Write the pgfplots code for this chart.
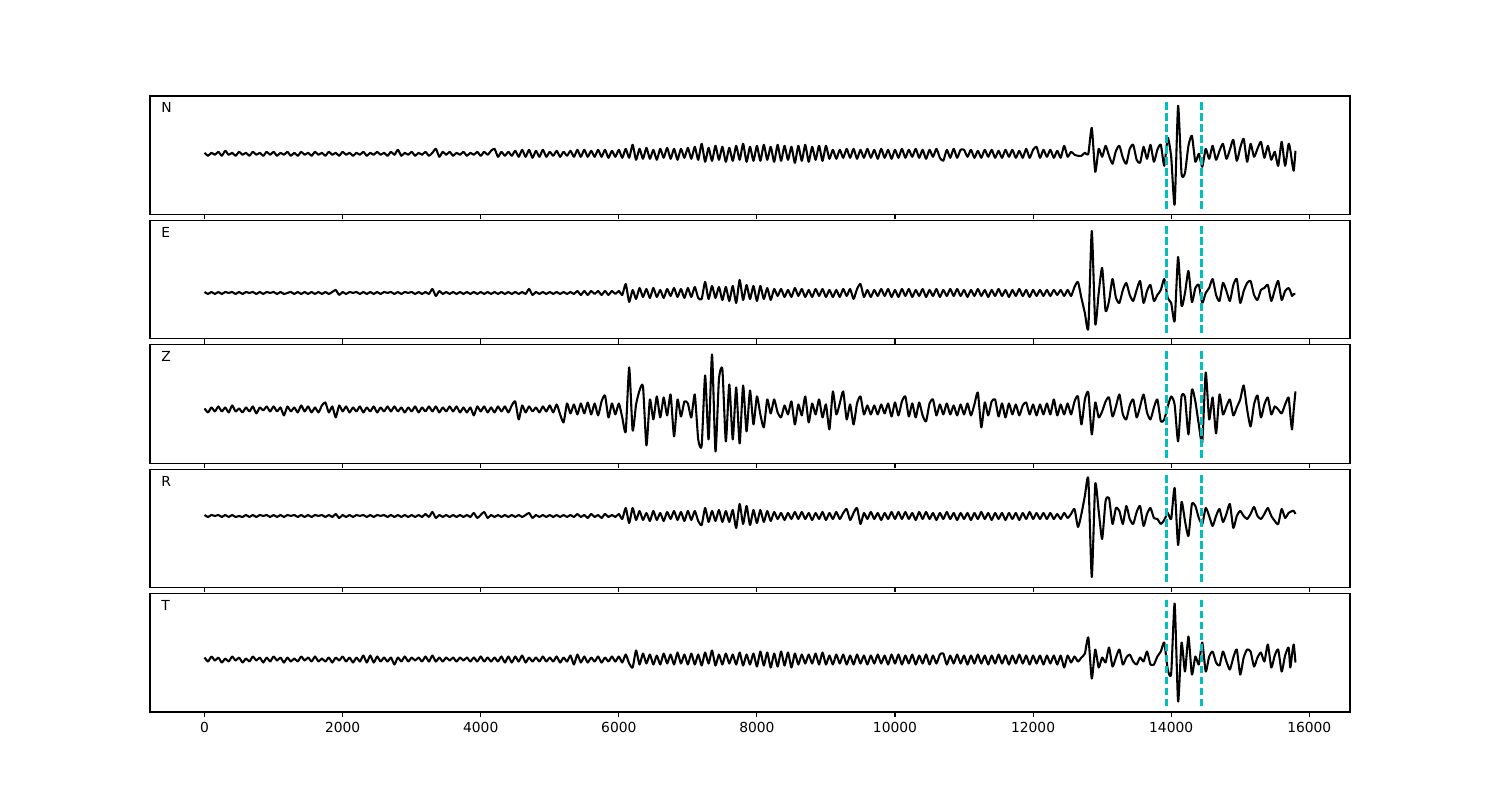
\documentclass[border=0pt]{standalone}
\usepackage{fontspec}
\setmainfont{DejaVu Sans}
\usepackage{pgfplots}
\usepackage{pgfplotstable}
\pgfplotsset{compat=1.18}
\definecolor{mplc}{rgb}{0,0.75,0.75}
\pgfplotstableread[row sep=\\]{
x N E Z R T\\
0 1 1 1 1 2\\
50 -2 -1 -3 -1 -2\\
100 1 1 2 1 3\\
150 -1 -1 -2 0 -1\\
200 2 1 3 1 2\\
250 -2 -1 -2 -1 -3\\
300 3 1 2 1 1\\
350 -1 0 -3 -1 -2\\
400 1 1 4 1 3\\
450 -2 -1 -2 -1 -1\\
500 2 1 1 0 2\\
550 -1 -1 -3 -1 -3\\
600 1 1 2 1 1\\
650 -2 0 -2 -1 -2\\
700 2 1 3 1 3\\
750 -1 -1 -4 -1 -1\\
800 1 1 2 1 2\\
850 -2 -1 -1 0 -3\\
900 2 1 3 1 2\\
950 -1 0 -2 -1 -2\\
1000 2 1 3 1 3\\
1050 -2 -1 -2 -1 -1\\
1100 1 1 2 1 2\\
1150 -1 -1 -6 -1 -3\\
1200 2 0 3 1 2\\
1250 -2 1 -2 0 -2\\
1300 1 -1 2 1 1\\
1350 -2 1 -3 -1 -2\\
1400 2 -1 4 1 3\\
1450 -1 1 -2 -1 -1\\
1500 1 -1 3 1 2\\
1550 -2 1 -3 -1 -2\\
1600 2 -1 2 1 3\\
1650 -1 1 -3 0 -2\\
1700 1 -1 4 1 1\\
1750 -2 1 7 -1 -2\\
1800 2 -1 -3 1 2\\
1850 -1 1 3 -1 -3\\
1900 1 3 -8 2 2\\
1950 -2 -2 4 -2 -1\\
2000 2 1 -2 1 3\\
2050 -1 -1 3 -1 -2\\
2100 1 1 -3 1 2\\
2150 -2 0 2 -1 -3\\
2200 1 1 -2 1 2\\
2250 -1 -1 3 0 -2\\
2300 2 1 -3 1 4\\
2350 -2 -1 2 -1 -3\\
2400 1 1 -2 1 4\\
2450 -1 -1 3 -1 -3\\
2500 2 1 -3 1 3\\
2550 -1 -1 2 0 -2\\
2600 1 1 -2 1 2\\
2650 -2 0 3 -1 -2\\
2700 2 1 -2 1 2\\
2750 -1 -1 3 -1 -5\\
2800 4 1 -2 1 2\\
2850 -2 -1 2 -1 -2\\
2900 1 1 -3 1 3\\
2950 -1 0 2 -1 -2\\
3000 2 1 -2 1 2\\
3050 -2 -1 3 -1 -1\\
3100 1 1 -3 1 2\\
3150 -1 -1 2 -1 -2\\
3200 2 1 -2 2 3\\
3250 -2 -1 3 -1 -2\\
3300 1 4 -2 4 4\\
3350 5 -3 3 -2 -2\\
3400 -3 2 -3 1 2\\
3450 2 -1 2 -1 -2\\
3500 -1 1 -2 1 2\\
3550 2 -1 3 -1 -1\\
3600 -2 1 -2 1 2\\
3650 1 -1 3 -1 -2\\
3700 -1 1 -3 1 2\\
3750 2 -1 2 -1 -1\\
3800 -2 1 -3 1 2\\
3850 1 -1 2 -1 -2\\
3900 -1 1 -6 3 2\\
3950 2 -1 3 -2 -2\\
4000 -2 1 -2 1 3\\
4050 2 -1 3 4 -2\\
4100 -1 1 -3 -2 2\\
4150 3 -1 2 1 -2\\
4200 5 1 -3 -1 2\\
4250 -3 -1 3 1 -2\\
4300 2 1 -2 -1 3\\
4350 -2 -1 3 1 -3\\
4400 2 1 -3 -1 3\\
4450 -2 -1 4 1 -3\\
4500 3 1 8 -1 3\\
4550 -3 -1 -10 1 -2\\
4600 4 1 4 -1 4\\
4650 -3 -1 -3 1 -3\\
4700 4 4 3 3 2\\
4750 -4 -2 -2 -2 -2\\
4800 3 1 2 1 2\\
4850 -3 -1 -3 -1 -2\\
4900 4 1 3 1 3\\
4950 -3 -1 -2 -1 -2\\
5000 2 1 4 1 2\\
5050 -2 -1 -3 -1 -2\\
5100 3 1 5 1 3\\
5150 -3 -1 -5 -1 -3\\
5200 2 1 -13 1 2\\
5250 -2 -1 6 -1 -2\\
5300 3 1 -4 1 4\\
5350 -3 -1 5 -1 -5\\
5400 4 2 -5 2 5\\
5450 -3 -2 6 -1 -3\\
5500 4 2 -4 1 3\\
5550 -3 -2 7 -2 -3\\
5600 3 2 -5 2 2\\
5650 -3 -1 6 -1 -2\\
5700 4 2 -6 1 3\\
5750 -3 -2 8 -2 -3\\
5800 4 2 14 2 2\\
5850 -4 -2 -8 -1 -2\\
5900 3 2 6 1 3\\
5950 -3 -1 -5 -1 -2\\
6000 4 2 6 2 3\\
6050 -4 -2 -8 -3 -3\\
6100 5 9 -22 8 5\\
6150 -4 -9 42 -7 -4\\
6200 9 3 -21 8 -8\\
6250 -6 -6 5 -4 9\\
6300 5 5 19 5 -5\\
6350 -5 -4 23 -4 6\\
6400 6 4 -36 3 -4\\
6450 -5 -5 10 -5 5\\
6500 4 5 -10 5 -5\\
6550 -6 -4 13 -4 4\\
6600 5 3 -8 3 -5\\
6650 -4 -5 12 -5 6\\
6700 6 4 -6 4 -4\\
6750 -5 -3 15 -3 5\\
6800 5 5 -27 5 -5\\
6850 -6 -4 10 -4 7\\
6900 5 4 -7 4 -4\\
6950 -4 -5 8 -5 5\\
7000 6 5 6 5 -5\\
7050 -5 -4 -8 -4 6\\
7100 7 6 15 5 -5\\
7150 -6 -5 -30 -5 5\\
7200 10 -6 -36 -9 -6\\
7250 -8 11 34 8 7\\
7300 6 -6 -30 -6 -4\\
7350 -7 7 55 5 9\\
7400 8 -5 -42 -5 -6\\
7450 -6 6 30 6 5\\
7500 7 -7 40 -6 -5\\
7550 -8 6 -32 5 6\\
7600 6 -8 25 -6 -4\\
7650 -7 7 -30 6 5\\
7700 8 -10 22 -12 -5\\
7750 -6 13 -34 12 7\\
7800 10 -7 24 -8 -6\\
7850 -8 8 -22 10 5\\
7900 7 -6 19 -9 -5\\
7950 -7 7 -15 6 6\\
8000 8 -8 13 -7 -7\\
8050 -7 7 -5 6 8\\
8100 9 -6 -18 -6 -6\\
8150 -6 5 10 5 7\\
8200 7 -7 -4 -5 -8\\
8250 -8 4 10 4 6\\
8300 9 -3 -3 -3 -7\\
8350 -7 4 -8 3 8\\
8400 8 -4 4 -4 -6\\
8450 -6 3 -5 3 7\\
8500 7 -4 8 -3 -8\\
8550 -9 5 -15 4 6\\
8600 8 -3 5 -3 -5\\
8650 -7 4 -6 4 5\\
8700 9 -4 13 -3 -4\\
8750 -8 3 -13 3 5\\
8800 7 -4 6 -4 -4\\
8850 -6 4 -5 3 6\\
8900 8 -3 10 -3 -5\\
8950 -7 4 -8 4 7\\
9000 8 -4 5 -4 -5\\
9050 -5 3 -20 3 4\\
9100 4 -4 18 -3 -5\\
9150 -5 3 -5 4 5\\
9200 4 -4 6 -3 -4\\
9250 -4 4 18 3 5\\
9300 5 -3 -10 7 -5\\
9350 -4 4 5 -4 4\\
9400 5 -6 -15 3 -5\\
9450 -5 4 6 8 5\\
9500 4 9 13 -8 -4\\
9550 -4 -4 -5 3 4\\
9600 5 3 4 -3 -5\\
9650 -4 -4 -5 4 4\\
9700 4 3 4 -3 -4\\
9750 -5 -3 -5 3 5\\
9800 5 4 5 -4 -4\\
9850 -4 -3 -4 3 4\\
9900 4 4 6 -3 -5\\
9950 -5 -4 -7 4 5\\
10000 4 3 7 -3 -4\\
10050 -4 -4 -6 4 5\\
10100 5 4 8 -3 -5\\
10150 -4 -3 13 4 4\\
10200 4 4 -7 -3 -4\\
10250 -3 -4 6 3 5\\
10300 5 3 -8 -4 -5\\
10350 -4 -3 7 4 4\\
10400 4 4 -6 -3 -4\\
10450 -5 -4 -12 4 5\\
10500 4 3 6 -3 -5\\
10550 -3 -3 10 3 4\\
10600 5 4 -6 -4 -4\\
10650 -4 -4 5 3 5\\
10700 -7 3 -5 -3 6\\
10750 4 -3 6 4 -5\\
10800 -4 4 -5 -3 4\\
10850 5 -3 4 3 -4\\
10900 -4 4 -6 -4 5\\
10950 4 -3 5 3 -4\\
11000 4 3 -5 -3 4\\
11050 -3 -4 6 3 -5\\
11100 4 3 -6 -4 4\\
11150 -4 -3 5 3 -4\\
11200 3 4 17 -3 5\\
11250 -4 -3 -18 4 -4\\
11300 4 3 7 -3 4\\
11350 -3 -4 -6 3 -5\\
11400 4 3 8 -4 4\\
11450 -4 -3 10 3 -4\\
11500 3 4 -7 -3 5\\
11550 -4 -3 6 3 -4\\
11600 4 3 -8 -4 4\\
11650 -3 -4 6 3 -5\\
11700 4 3 -5 -3 4\\
11750 -4 -3 5 3 -4\\
11800 3 4 -6 -4 5\\
11850 -4 -3 4 3 -4\\
11900 5 3 7 -3 4\\
11950 -4 -4 -5 4 -5\\
12000 4 3 5 -3 4\\
12050 7 -3 -6 3 -4\\
12100 -4 3 5 -3 4\\
12150 4 -3 -5 3 -5\\
12200 -3 3 6 -3 4\\
12250 4 -3 -5 3 -4\\
12300 -4 3 10 -3 4\\
12350 3 -2 -6 2 -5\\
12400 -4 3 5 -3 4\\
12450 8 -3 -5 3 -8\\
12500 -3 3 6 -2 4\\
12550 2 -3 -5 2 -3\\
12600 -1 6 8 7 3\\
12650 -2 11 13 -11 -2\\
12700 -2 -5 -15 2 2\\
12750 1 -20 10 20 6\\
12800 0 -35 17 37 22\\
12850 26 62 -25 -61 -19\\
12900 -18 -31 7 32 10\\
12950 5 0 -8 5 -8\\
13000 -3 25 -2 -23 2\\
13050 8 -18 8 15 -3\\
13100 -2 -8 12 18 12\\
13150 -10 14 -7 -8 -7\\
13200 3 -5 3 8 2\\
13250 8 -10 15 5 10\\
13300 -4 3 -5 -8 -5\\
13350 -10 10 -10 10 2\\
13400 5 -2 4 -3 5\\
13450 9 -8 10 -8 -2\\
13500 -6 3 -8 4 -5\\
13550 -9 12 3 10 2\\
13600 7 -10 15 -10 -2\\
13650 -5 2 -3 2 8\\
13700 9 8 -10 8 -5\\
13750 -8 -8 2 -2 -5\\
13800 4 -2 10 -3 3\\
13850 9 3 -12 -8 8\\
13900 -12 14 -10 -4 17\\
13950 16 -5 3 3 -10\\
14000 -3 -10 13 -3 -14\\
14050 -51 -28 5 28 56\\
14100 48 36 -32 -29 -42\\
14150 -20 -13 13 14 17\\
14200 -19 0 12 -5 -12\\
14250 8 22 -25 -20 23\\
14300 18 -9 20 12 -15\\
14350 -8 5 8 10 3\\
14400 0 8 -15 -2 -5\\
14450 -13 -10 -33 -8 17\\
14500 5 0 37 8 -12\\
14550 -5 5 -10 0 3\\
14600 8 14 12 -10 8\\
14650 -6 -2 -24 0 -3\\
14700 3 -8 15 7 -6\\
14750 10 10 -5 -6 8\\
14800 -5 2 3 2 -2\\
14850 4 -8 10 12 -10\\
14900 14 8 -6 -12 2\\
14950 -7 14 2 0 10\\
15000 6 -10 10 5 -15\\
15050 15 2 24 0 2\\
15100 -8 10 0 -3 10\\
15150 10 12 -17 2 8\\
15200 -3 -2 5 9 -7\\
15250 5 -7 14 0 2\\
15300 12 3 -8 -3 7\\
15350 -4 5 5 2 -2\\
15400 8 8 12 8 15\\
15450 -6 -8 -5 0 -8\\
15500 2 3 3 -5 4\\
15550 -12 12 0 -8 10\\
15600 12 -7 -4 7 -12\\
15650 -12 2 5 -2 4\\
15700 10 5 12 3 12\\
15725 4 2 -5 4 -8\\
15750 -8 -3 -20 5 5\\
15775 -17 -1 0 5 15\\
15800 3 -1 18 2 -3\\
}\traces
\pgfplotsset{
  panel/.style={
    scale only axis, width=12in, height=1.1846in, anchor=south west,
    xmin=-790, xmax=16590,
    xtick={0,2000,...,16000}, ytick=\empty,
    scaled x ticks=false,
    xtick pos=left, tick align=outside,
    major tick length=3.5pt,
    tick style={black, line width=0.8pt},
    axis line style={line width=0.8pt},
    xticklabel={\pgfmathprintnumber[fixed,precision=0,1000 sep={},assume math mode=true]{\tick}},
    ticklabel style={font=\fontsize{10}{12}\selectfont},
  },
  trace/.style={black, line width=1.5pt, line join=round, mark=none, smooth, tension=0.35},
}
\tikzset{
  cline/.style={mplc, line width=2pt, dash pattern=on 5.55pt off 2.4pt},
  lbl/.style={anchor=base west, inner sep=0pt, font=\fontsize{10}{12}\selectfont},
}
\begin{document}
\begin{tikzpicture}
\path[use as bounding box] (0,0) rectangle (15in,8in);
% N
\begin{axis}[panel, at={(1.5in,5.8552in)}, ymin=-60.7, ymax=57.8, xticklabels={}]
\addplot[trace] table[x=x, y=N] {\traces};
\draw[cline] ({axis cs:13930,0}|-{rel axis cs:0,0.048}) -- ({axis cs:13930,0}|-{rel axis cs:0,0.952});
\draw[cline] ({axis cs:14440,0}|-{rel axis cs:0,0.048}) -- ({axis cs:14440,0}|-{rel axis cs:0,0.952});
\node[lbl] at (rel axis cs:0.0092,0.857) {N};
\end{axis}
% E
\begin{axis}[panel, at={(1.5in,4.6114in)}, ymin=-45.9, ymax=72.6, xticklabels={}]
\addplot[trace] table[x=x, y=E] {\traces};
\draw[cline] ({axis cs:13930,0}|-{rel axis cs:0,0.048}) -- ({axis cs:13930,0}|-{rel axis cs:0,0.952});
\draw[cline] ({axis cs:14440,0}|-{rel axis cs:0,0.048}) -- ({axis cs:14440,0}|-{rel axis cs:0,0.952});
\node[lbl] at (rel axis cs:0.0092,0.855) {E};
\end{axis}
% Z
\begin{axis}[panel, at={(1.5in,3.3676in)}, ymin=-53.8, ymax=64.7, xticklabels={}]
\addplot[trace] table[x=x, y=Z] {\traces};
\draw[cline] ({axis cs:13930,0}|-{rel axis cs:0,0.048}) -- ({axis cs:13930,0}|-{rel axis cs:0,0.952});
\draw[cline] ({axis cs:14440,0}|-{rel axis cs:0,0.048}) -- ({axis cs:14440,0}|-{rel axis cs:0,0.952});
\node[lbl] at (rel axis cs:0.0092,0.855) {Z};
\end{axis}
% R
\begin{axis}[panel, at={(1.5in,2.1238in)}, ymin=-71.6, ymax=46.8, xticklabels={}]
\addplot[trace] table[x=x, y=R] {\traces};
\draw[cline] ({axis cs:13930,0}|-{rel axis cs:0,0.048}) -- ({axis cs:13930,0}|-{rel axis cs:0,0.952});
\draw[cline] ({axis cs:14440,0}|-{rel axis cs:0,0.048}) -- ({axis cs:14440,0}|-{rel axis cs:0,0.952});
\node[lbl] at (rel axis cs:0.0092,0.855) {R};
\end{axis}
% T
\begin{axis}[panel, at={(1.5in,0.88in)}, ymin=-52.5, ymax=66]
\addplot[trace] table[x=x, y=T] {\traces};
\draw[cline] ({axis cs:13930,0}|-{rel axis cs:0,0.048}) -- ({axis cs:13930,0}|-{rel axis cs:0,0.952});
\draw[cline] ({axis cs:14440,0}|-{rel axis cs:0,0.048}) -- ({axis cs:14440,0}|-{rel axis cs:0,0.952});
\node[lbl] at (rel axis cs:0.0092,0.855) {T};
\end{axis}
\end{tikzpicture}
\end{document}
